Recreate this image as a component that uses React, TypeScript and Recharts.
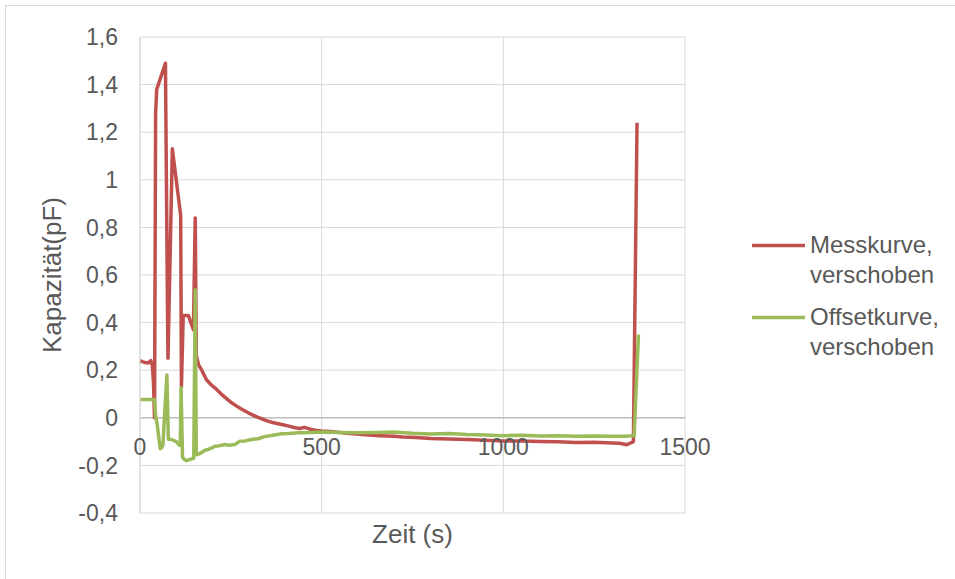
import React from 'react';
import { LineChart, Line, XAxis, YAxis, CartesianGrid, Legend, ReferenceLine, Label } from 'recharts';

// Messkurve (verschoben): time in s, capacity in pF
const MESS_T = [0, 8, 15, 22, 30, 34, 37, 40, 43, 46, 70, 76, 77, 89, 112, 114, 119, 133, 147, 152, 155, 162, 170, 183, 195, 206, 220, 235, 252, 270, 285, 298, 320, 344, 365, 390, 410, 427, 440, 452, 470, 482, 500, 523, 550, 578, 620, 660, 700, 724, 760, 800, 850, 900, 950, 1000, 1050, 1100, 1150, 1200, 1250, 1300, 1320, 1340, 1350, 1358, 1368];
const MESS_V = [0.24, 0.235, 0.232, 0.23, 0.24, 0.22, 0.15, 0.0, 1.28, 1.38, 1.49, 0.4, 0.25, 1.13, 0.85, 0.13, 0.43, 0.43, 0.37, 0.84, 0.26, 0.22, 0.2, 0.16, 0.14, 0.126, 0.105, 0.085, 0.063, 0.045, 0.032, 0.021, 0.005, -0.01, -0.02, -0.028, -0.035, -0.042, -0.045, -0.04, -0.048, -0.052, -0.055, -0.058, -0.062, -0.066, -0.071, -0.075, -0.078, -0.081, -0.083, -0.087, -0.089, -0.091, -0.094, -0.097, -0.098, -0.1, -0.101, -0.104, -0.103, -0.106, -0.107, -0.113, -0.106, -0.1, 1.24];

// Offsetkurve (verschoben)
const OFFSET_T = [0, 20, 40, 43, 48, 53, 56, 60, 63, 74, 78, 85, 92, 100, 108, 111, 113, 117, 122, 128, 138, 148, 152, 155, 165, 180, 188, 200, 206, 215, 225, 234, 245, 261, 275, 290, 297, 310, 325, 340, 352, 370, 390, 410, 435, 470, 500, 550, 600, 650, 700, 750, 800, 850, 900, 950, 1000, 1050, 1100, 1150, 1200, 1250, 1300, 1340, 1360, 1372];
const OFFSET_V = [0.077, 0.077, 0.077, 0.01, -0.035, -0.1, -0.13, -0.125, -0.115, 0.18, -0.09, -0.09, -0.095, -0.1, -0.115, -0.115, 0.126, -0.165, -0.175, -0.18, -0.175, -0.17, 0.538, -0.155, -0.15, -0.135, -0.133, -0.125, -0.119, -0.118, -0.115, -0.112, -0.115, -0.112, -0.098, -0.097, -0.094, -0.09, -0.088, -0.08, -0.077, -0.072, -0.067, -0.066, -0.063, -0.062, -0.06, -0.062, -0.063, -0.062, -0.06, -0.065, -0.068, -0.066, -0.07, -0.072, -0.075, -0.073, -0.076, -0.075, -0.077, -0.076, -0.078, -0.077, -0.075, 0.35];

const X_TICKS = [0, 500, 1000, 1500];
const Y_TICKS = [-0.4, -0.2, 0, 0.2, 0.4, 0.6, 0.8, 1, 1.2, 1.4, 1.6];
const SERIES = [
    { name: 'Messkurve, verschoben', lines: ['Messkurve,', 'verschoben'], color: '#c0504d' },
    { name: 'Offsetkurve, verschoben', lines: ['Offsetkurve,', 'verschoben'], color: '#9bbb59' },
];

const FONT = '"Liberation Sans", Arial, sans-serif';
const TEXT = '#595959';
const GRID = '#d9d9d9';

const WIDTH = 955;
const HEIGHT = 579;
const MARGIN = { top: 37, right: 270, bottom: 0, left: 0 };
const X_AXIS_H = 66;
const Y_AXIS_W = 140;
const Y_MIN = Y_TICKS[0];
const Y_MAX = Y_TICKS[Y_TICKS.length - 1];

// x axis crosses at y = 0, so its labels sit under the zero line
const PLOT_H = HEIGHT - MARGIN.top - MARGIN.bottom - X_AXIS_H;
const ZERO_Y = MARGIN.top + (PLOT_H * Y_MAX) / (Y_MAX - Y_MIN);

const messData = MESS_T.map((t, i) => ({ t, v: MESS_V[i] }));
const offsetData = OFFSET_T.map((t, i) => ({ t, v: OFFSET_V[i] }));

const fmtY = (v: number) => String(Math.round(v * 10) / 10).replace('.', ',');

const XTick = (props: any) => {
    const { x, payload } = props;
    return (
        <text x={x} y={ZERO_Y + 29} dy="0.355em" textAnchor="middle" fill={TEXT} fontSize={23} fontFamily={FONT}>
            {payload.value}
        </text>
    );
};

const YTitle = (props: any) => {
    const { viewBox } = props;
    const cx = viewBox.x + 52;
    const cy = viewBox.y + viewBox.height / 2;
    return (
        <text
            x={cx}
            y={cy}
            transform={`rotate(-90, ${cx}, ${cy})`}
            textAnchor="middle"
            dominantBaseline="central"
            fill={TEXT}
            fontSize={26}
            fontFamily={FONT}
        >
            Kapazität(pF)
        </text>
    );
};

const LegendBox = () => (
    <div style={{ fontFamily: FONT, fontSize: 24, lineHeight: '30px', color: TEXT }}>
        {SERIES.map((s, i) => (
            <div key={s.name} style={{ display: 'flex', alignItems: 'flex-start', marginTop: i ? 12 : 0 }}>
                <svg width={58} height={30} style={{ flex: 'none' }}>
                    <line x1={0} x2={53} y1={15.5} y2={15.5} stroke={s.color} strokeWidth={3.5} />
                </svg>
                <div>
                    {s.lines[0]}
                    <br />
                    {s.lines[1]}
                </div>
            </div>
        ))}
    </div>
);

const App: React.FC = () => {
    return (
        <div style={{ position: 'absolute', left: 0, top: 0, width: WIDTH, height: HEIGHT, overflow: 'hidden', background: '#fff' }}>
            <div style={{ position: 'absolute', left: 5, top: 5, width: 980, height: 600, border: `1px solid ${GRID}` }} />
            <LineChart width={WIDTH} height={HEIGHT} margin={MARGIN} style={{ fontFamily: FONT }}>
                <CartesianGrid stroke={GRID} strokeWidth={1} />
                <XAxis
                    dataKey="t"
                    type="number"
                    domain={[0, 1500]}
                    ticks={X_TICKS}
                    height={X_AXIS_H}
                    axisLine={false}
                    tickLine={false}
                    tick={<XTick />}
                    interval={0}
                >
                    <Label value="Zeit (s)" position="insideBottom" offset={36} fill={TEXT} fontSize={26} fontFamily={FONT} />
                </XAxis>
                <YAxis
                    type="number"
                    domain={[Y_MIN, Y_MAX]}
                    ticks={Y_TICKS}
                    width={Y_AXIS_W}
                    tickFormatter={fmtY}
                    tickLine={false}
                    tickSize={0}
                    tickMargin={22}
                    axisLine={{ stroke: GRID }}
                    tick={{ fill: TEXT, fontSize: 23, fontFamily: FONT }}
                    interval={0}
                    label={<YTitle />}
                />
                <ReferenceLine y={0} stroke="#bfbfbf" strokeWidth={1.5} />
                <Legend
                    layout="vertical"
                    align="center"
                    verticalAlign="middle"
                    wrapperStyle={{ left: 752, top: 230, width: 200 }}
                    content={<LegendBox />}
                />
                <Line
                    data={messData}
                    dataKey="v"
                    name={SERIES[0].name}
                    type="linear"
                    stroke={SERIES[0].color}
                    strokeWidth={3.5}
                    strokeLinejoin="round"
                    dot={false}
                    activeDot={false}
                    isAnimationActive={false}
                />
                <Line
                    data={offsetData}
                    dataKey="v"
                    name={SERIES[1].name}
                    type="linear"
                    stroke={SERIES[1].color}
                    strokeWidth={3.5}
                    strokeLinejoin="round"
                    dot={false}
                    activeDot={false}
                    isAnimationActive={false}
                />
            </LineChart>
        </div>
    );
};

export default App;
